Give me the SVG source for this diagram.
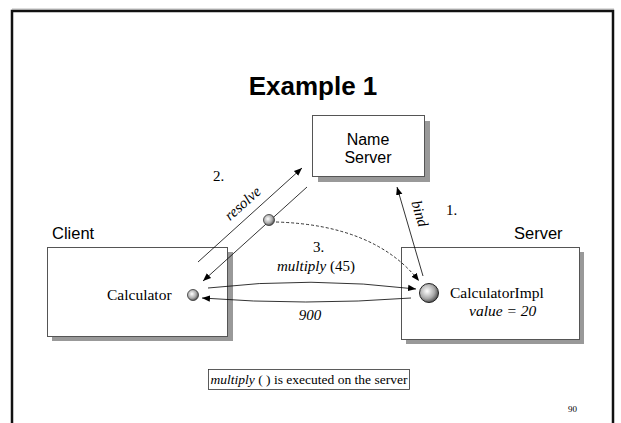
<svg xmlns="http://www.w3.org/2000/svg" width="621" height="423" viewBox="0 0 621 423">
<style>
.box{fill:#fff;stroke:#555;stroke-width:1}
.shadow{fill:#999}
.sans{font-family:"Liberation Sans",Arial,sans-serif;fill:#000}
.serif{font-family:"Liberation Serif","Times New Roman",serif;fill:#000}
.ln{fill:none;stroke:#000;stroke-width:0.8}
.dash{fill:none;stroke:#000;stroke-width:0.8;stroke-dasharray:3,2}
</style>
<defs>
<marker id="ah" viewBox="0 0 10 10" refX="10" refY="5" markerWidth="8" markerHeight="8" markerUnits="userSpaceOnUse" orient="auto">
<path d="M0,1 L10,5 L0,9 Z" fill="#000"/>
</marker>
<radialGradient id="sph" cx="0.4" cy="0.4" r="0.65">
<stop offset="0" stop-color="#fff"/>
<stop offset="0.6" stop-color="#aaa"/>
<stop offset="1" stop-color="#444"/>
</radialGradient>
</defs>
<rect width="621" height="423" fill="#fff"/>
<line x1="12" y1="9" x2="614" y2="9" stroke="#bbb" stroke-width="1"/>
<rect x="12" y="11" width="601" height="430" fill="none" stroke="#111" stroke-width="2.5"/>
<text class="sans" x="313" y="95" font-size="26" font-weight="bold" text-anchor="middle">Example 1</text>

<g id="nameserver">
<rect class="shadow" x="318" y="121" width="112" height="61"/>
<rect class="box" x="312.5" y="115.5" width="112" height="61"/>
<text class="sans" x="368" y="145" font-size="16" text-anchor="middle">Name</text>
<text class="sans" x="368" y="163" font-size="16" text-anchor="middle">Server</text>
</g>

<g id="client">
<text class="sans" x="52" y="239" font-size="16.5">Client</text>
<rect class="shadow" x="52" y="252" width="181" height="89"/>
<rect class="box" x="47.5" y="247.5" width="180" height="89"/>
<text class="serif" x="107" y="300" font-size="15.5">Calculator</text>
<circle cx="193" cy="295" r="5.5" fill="url(#sph)" stroke="#333" stroke-width="0.8"/>
</g>

<g id="server">
<text class="sans" x="514" y="239" font-size="16.5">Server</text>
<rect class="shadow" x="406" y="252" width="178" height="92"/>
<rect class="box" x="401.5" y="247.5" width="178" height="92"/>
<circle cx="429" cy="293" r="9.5" fill="url(#sph)" stroke="#222" stroke-width="1"/>
<text class="serif" x="450" y="298" font-size="15.5">CalculatorImpl</text>
<text class="serif" x="469" y="316" font-size="15.5" font-style="italic">value = 20</text>
</g>

<g id="connectors">
<line class="ln" x1="198" y1="262" x2="302" y2="168" marker-end="url(#ah)"/>
<line class="ln" x1="307" y1="187" x2="203" y2="281" marker-end="url(#ah)"/>
<text class="serif" x="246" y="207" font-size="15" font-style="italic" text-anchor="middle" transform="rotate(-42 246 207)">resolve</text>
<text class="serif" x="213" y="181" font-size="15">2.</text>
<line class="ln" x1="423" y1="276" x2="397" y2="187" marker-end="url(#ah)"/>
<text class="serif" x="415" y="215" font-size="15" font-style="italic" text-anchor="middle" transform="rotate(73.5 415 215)">bind</text>
<text class="serif" x="446" y="215" font-size="15">1.</text>
<path class="dash" d="M276,222 Q375,225 419,281" marker-end="url(#ah)"/>
<circle cx="269" cy="220" r="5.5" fill="url(#sph)" stroke="#333" stroke-width="0.8"/>
<text class="serif" x="313" y="252" font-size="15">3.</text>
<text class="serif" x="316" y="271" font-size="15" text-anchor="middle"><tspan font-style="italic">multiply</tspan> (45)</text>
<path class="ln" d="M208,288 Q310,276 416,289" marker-end="url(#ah)"/>
<path class="ln" d="M411,298 Q305,306 202,298" marker-end="url(#ah)"/>
<text class="serif" x="310" y="320" font-size="15" font-style="italic" text-anchor="middle">900</text>
</g>

<g id="note">
<rect x="208.5" y="369.5" width="201" height="20" fill="#fff" stroke="#333" stroke-width="0.8"/>
<text class="serif" x="309" y="384" font-size="13.5" text-anchor="middle"><tspan font-style="italic">multiply</tspan> ( ) is executed on the server</text>
</g>
<text class="serif" x="568" y="412" font-size="9">90</text>
</svg>
